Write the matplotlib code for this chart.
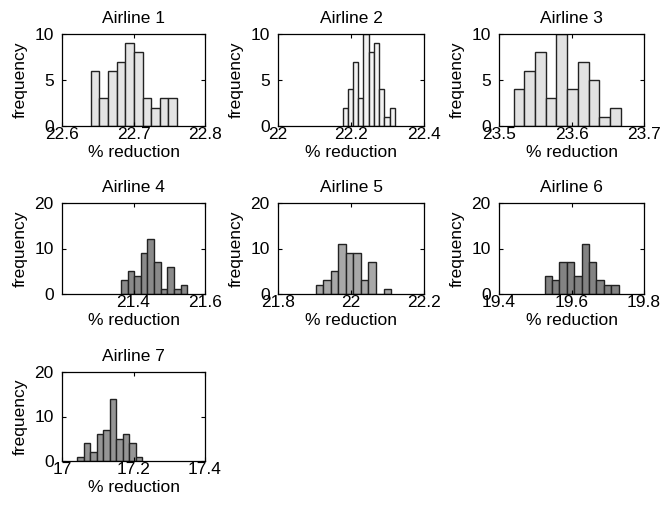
import numpy as np
import matplotlib
matplotlib.use('Agg')
import matplotlib.pyplot as plt

plt.rcParams['font.family'] = ['Liberation Sans', 'DejaVu Sans']

# histogram counts per airline (10 bins each)
names = ['Airline 1', 'Airline 2', 'Airline 3', 'Airline 4', 'Airline 5', 'Airline 6', 'Airline 7']
counts1 = [6, 3, 6, 7, 9, 8, 3, 2, 3, 3]
counts2 = [2, 4, 7, 3, 10, 8, 9, 4, 1, 2]
counts3 = [4, 6, 8, 3, 10, 4, 7, 5, 1, 2]
counts4 = [3, 5, 4, 9, 12, 7, 1, 6, 1, 2]
counts5 = [2, 3, 5, 11, 9, 9, 3, 7, 0, 1]
counts6 = [4, 3, 7, 7, 4, 11, 7, 3, 2, 2]
counts7 = [1, 4, 2, 6, 7, 14, 5, 6, 4, 1]
all_counts = [counts1, counts2, counts3, counts4, counts5, counts6, counts7]

# first bin left edge and last bin right edge (% reduction)
bin_lo = [22.640, 22.177, 23.520, 21.365, 21.903, 19.526, 17.042]
bin_hi = [22.761, 22.320, 23.668, 21.550, 22.110, 19.730, 17.224]

xlims = [(22.6, 22.8), (22.0, 22.4), (23.5, 23.7), (21.2, 21.6), (21.8, 22.2), (19.4, 19.8), (17.0, 17.4)]
xticks = [[22.6, 22.7, 22.8], [22.0, 22.2, 22.4], [23.5, 23.6, 23.7], [21.4, 21.6],
          [21.8, 22.0, 22.2], [19.4, 19.6, 19.8], [17.0, 17.2, 17.4]]
xticklabels = [['22.6', '22.7', '22.8'], ['22', '22.2', '22.4'], ['23.5', '23.6', '23.7'], ['21.4', '21.6'],
               ['21.8', '22', '22.2'], ['19.4', '19.6', '19.8'], ['17', '17.2', '17.4']]
ymax = [10, 10, 10, 20, 20, 20, 20]
yticks = [[0, 5, 10]] * 3 + [[0, 10, 20]] * 4
colors = ['#e4e4e4', '#f2f2f2', '#e2e2e2', '#8a8a8a', '#a8a8a8', '#838383', '#959595']

fig = plt.figure(figsize=(6.65, 5.08), dpi=100)
W, H = 665, 508
cols = [(62, 205), (278, 424), (499, 644)]
rows = [(34, 126), (203, 294), (372, 461)]
fs = 12.5

for i in range(7):
    r, c = divmod(i, 3)
    x0, x1 = cols[c]
    y0, y1 = rows[r]
    ax = fig.add_axes([x0 / W, 1 - y1 / H, (x1 - x0) / W, (y1 - y0) / H])
    edges = np.linspace(bin_lo[i], bin_hi[i], len(all_counts[i]) + 1)
    ax.bar(edges[:-1], all_counts[i], width=np.diff(edges), align='edge',
           color=colors[i], edgecolor='#222222', linewidth=1.0)
    ax.set_xlim(*xlims[i])
    ax.set_ylim(0, ymax[i])
    ax.set_xticks(xticks[i])
    ax.set_xticklabels(xticklabels[i])
    ax.set_yticks(yticks[i])
    ax.tick_params(direction='in', top=True, right=True, length=3, labelsize=fs)
    ax.tick_params(axis='x', pad=1)
    ax.tick_params(axis='y', pad=6)
    ax.set_title(names[i], fontsize=fs, pad=8)
    ax.set_xlabel('% reduction', fontsize=fs, labelpad=2)
    ax.set_ylabel('frequency', fontsize=fs, labelpad=5)
    for s in ax.spines.values():
        s.set_linewidth(0.9)

fig.savefig('out.png', dpi=100)
